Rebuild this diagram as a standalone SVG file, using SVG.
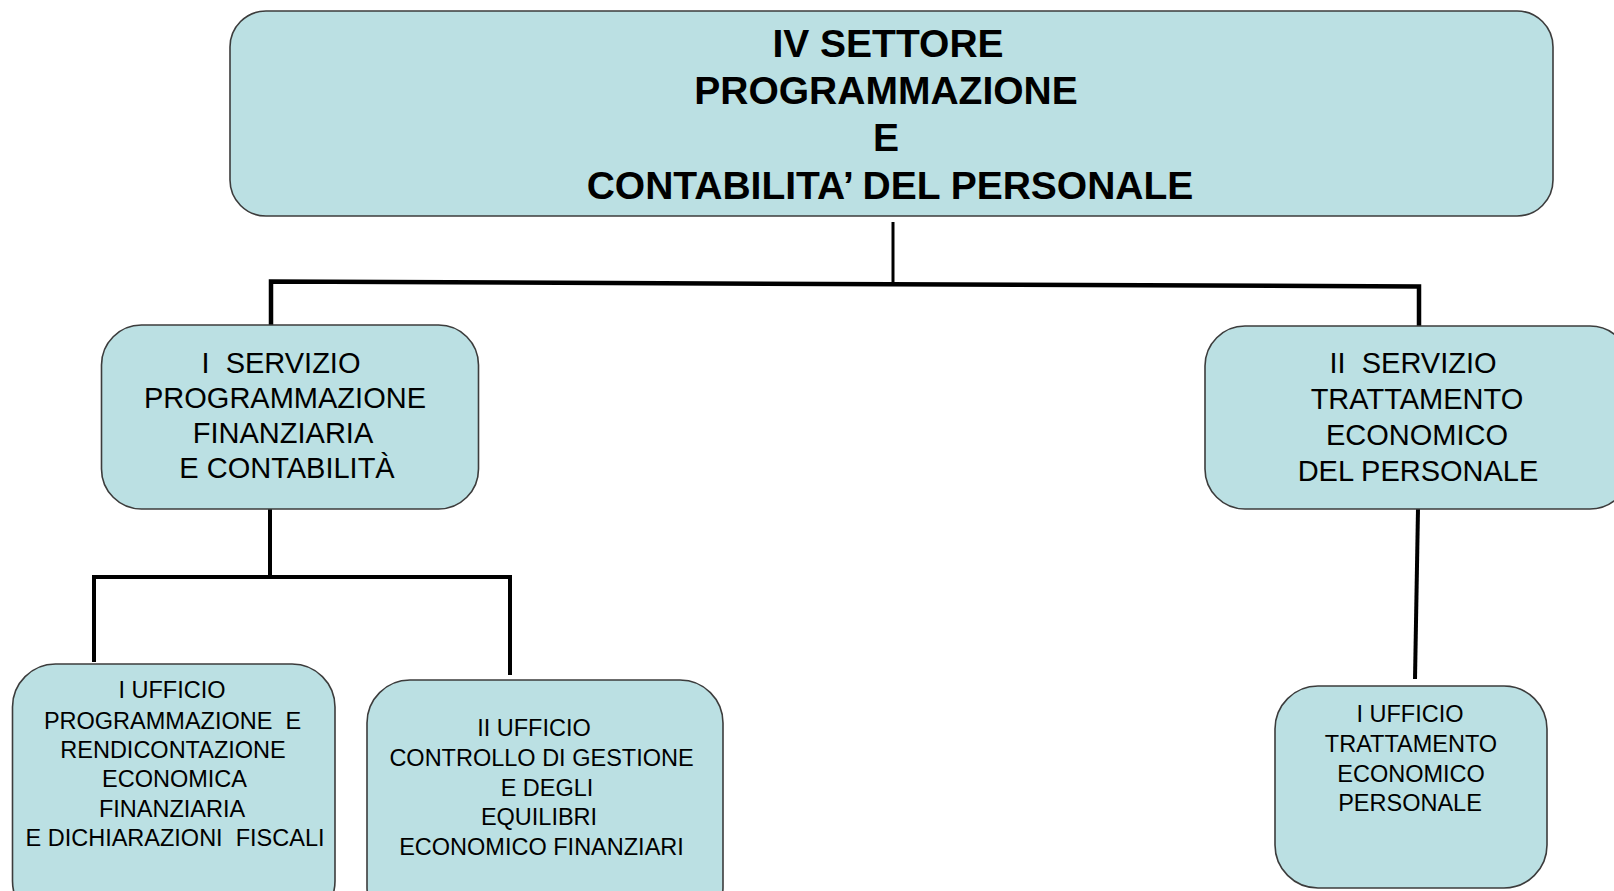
<svg xmlns="http://www.w3.org/2000/svg" width="1614" height="891" viewBox="0 0 1614 891">
<style>
.box{fill:#BBE0E3;stroke:#3c3c3c;stroke-width:1.6}
.t{font-family:"Liberation Sans",Arial,sans-serif;fill:#000;text-anchor:middle;white-space:pre}
.title{font-weight:bold;font-size:39px}
.m{font-size:29px}
.s{font-size:23.5px}
.c{stroke:#000;fill:none;stroke-linecap:butt;stroke-linejoin:miter}
</style>
<rect width="1614" height="891" fill="#fff"/>
<g id="connectors">
<line class="c" x1="893" y1="222" x2="893" y2="284" stroke-width="3"/>
<polyline class="c" points="271,325 271,281.5 1419,286.5 1419,326" stroke-width="4.5"/>
<polyline class="c" points="270,503 270,577"  stroke-width="4"/>
<polyline class="c" points="94,662 94,577 510,577 510,675" stroke-width="4"/>
<line class="c" x1="1418" y1="509" x2="1415" y2="679" stroke-width="4"/>
</g>
<g id="n-settore">
<rect class="box" x="230" y="11" width="1323" height="205" rx="36" ry="36"/>
<text class="t title" x="888" y="57">IV SETTORE</text>
<text class="t title" x="886" y="104">PROGRAMMAZIONE</text>
<text class="t title" x="886" y="151">E</text>
<text class="t title" x="890" y="199">CONTABILITA’ DEL PERSONALE</text>
</g>
<g id="n-servizio1">
<rect class="box" x="101.5" y="325" width="377" height="184" rx="40" ry="40"/>
<text class="t m" x="281" y="373" xml:space="preserve">I  SERVIZIO</text>
<text class="t m" x="285" y="408">PROGRAMMAZIONE</text>
<text class="t m" x="283" y="443">FINANZIARIA</text>
<text class="t m" x="287" y="478">E CONTABILITÀ</text>
</g>
<g id="n-servizio2">
<rect class="box" x="1205" y="326" width="425" height="183" rx="40" ry="40"/>
<text class="t m" x="1413" y="373" xml:space="preserve">II  SERVIZIO</text>
<text class="t m" x="1417" y="409">TRATTAMENTO</text>
<text class="t m" x="1417" y="445">ECONOMICO</text>
<text class="t m" x="1418" y="481">DEL PERSONALE</text>
</g>
<g id="n-ufficio1">
<rect class="box" x="12.5" y="664" width="322.5" height="260" rx="43" ry="43"/>
<text class="t s" x="172" y="698">I UFFICIO</text>
<text class="t s" x="172.5" y="729" xml:space="preserve">PROGRAMMAZIONE  E</text>
<text class="t s" x="173" y="758">RENDICONTAZIONE</text>
<text class="t s" x="174.5" y="787">ECONOMICA</text>
<text class="t s" x="172" y="817">FINANZIARIA</text>
<text class="t s" x="175" y="846" xml:space="preserve">E DICHIARAZIONI  FISCALI</text>
</g>
<g id="n-ufficio2">
<rect class="box" x="367" y="680" width="356" height="250" rx="43" ry="43"/>
<text class="t s" x="534" y="736">II UFFICIO</text>
<text class="t s" x="541.5" y="766">CONTROLLO DI GESTIONE</text>
<text class="t s" x="547" y="796">E DEGLI</text>
<text class="t s" x="539" y="825">EQUILIBRI</text>
<text class="t s" x="541.5" y="855">ECONOMICO FINANZIARI</text>
</g>
<g id="n-ufficio3">
<rect class="box" x="1275" y="686" width="272" height="202" rx="43" ry="43"/>
<text class="t s" x="1410" y="722">I UFFICIO</text>
<text class="t s" x="1411" y="752">TRATTAMENTO</text>
<text class="t s" x="1411" y="782">ECONOMICO</text>
<text class="t s" x="1410" y="811">PERSONALE</text>
</g>
</svg>
